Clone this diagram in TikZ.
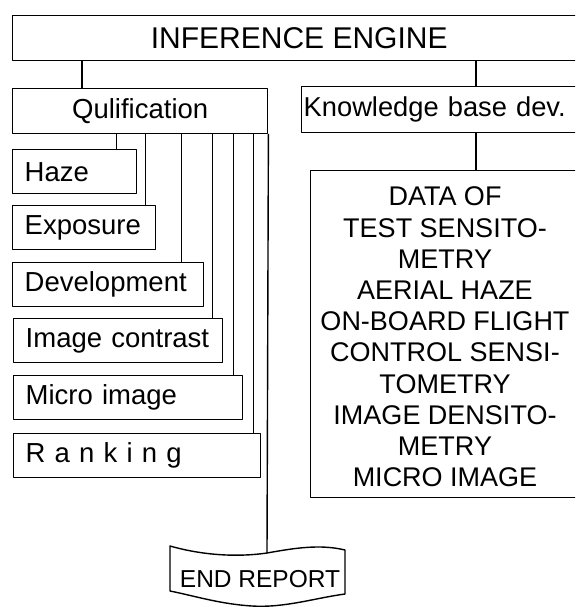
\documentclass[tikz,border=0pt]{standalone}
\usepackage{fontspec}
\setmainfont{Liberation Sans}
\begin{document}
\begin{tikzpicture}[x=1pt, y=-1pt, line width=1.4pt, line join=round, line cap=round]
	\tikzset{box/.style={draw, anchor=north west, inner sep=0pt, font=\fontsize{27.5}{30}\selectfont},
		sub box/.style={box, minimum height=44pt, inner xsep=12pt, text width=#1, align=left}}
	
	\path[use as bounding box, clip] (0,0) rectangle (575,607);
	% top row
	\node (engine) [box, minimum width=573pt, minimum height=45pt, font=\fontsize{30}{33}\selectfont] at (12,15) {INFERENCE ENGINE};
	\node (qual) [box, minimum width=255pt, minimum height=45pt] at (12,88) {Qulification};
	\node (know) [box, minimum height=46pt, inner xsep=2pt, text width=280pt, align=left, font=\fontsize{27.3}{30}\selectfont] at (301,86) {Knowledge base dev.};
	\draw (engine.south -| 82,0) -- (qual.north -| 82,0);
	\draw (engine.south -| 476,0) -- (know.north -| 476,0);
	% qualification steps
	\node (haze) [sub box=100pt] at (12,149) {Haze};
	\node (expo) [sub box=119pt] at (12,205) {Exposure};
	\node (devel) [sub box=167pt] at (12,262) {Development};
	\node (contr) [sub box=185pt] at (13,318) {Image contrast};
	\node (micro) [sub box=205pt] at (13,375) {Micro image};
	\node (rank) [sub box=223pt] at (13,433) {R a n k i n g};
	\foreach \n/\d in {haze/21, expo/11, devel/23, contr/11, micro/10, rank/8}
		\draw ([xshift=-\d pt]\n.north east) -- ([xshift=-\d pt]\n.north east |- qual.south);
	% data base
	\node (data) [box, minimum width=280pt, minimum height=327pt] at (310,170) {};
	\draw (know.south -| 476,0) -- (data.north -| 476,0);
	\node (datatext) [align=center, font=\fontsize{27}{31.2}\selectfont] at (445,337) {DATA OF\\TEST SENSITO-\\METRY\\AERIAL HAZE\\ON-BOARD FLIGHT\\CONTROL SENSI-\\TOMETRY\\IMAGE DENSITO-\\METRY\\MICRO IMAGE};
	% end report
	\draw (170,546) .. controls (205,556) and (240,557) .. (267,553) .. controls (295,548) and (320,544) .. (345,550) -- (345,594) .. controls (315,598) and (285,608) .. (252,606) .. controls (220,604) and (195,596) .. (170,591) -- cycle;
	\node (report) [font=\fontsize{24.5}{28}\selectfont] at (260,579) {END REPORT};
	\coordinate (reptop) at (267,553);
	\draw (qual.south east) -- (reptop);
\end{tikzpicture}
\end{document}
